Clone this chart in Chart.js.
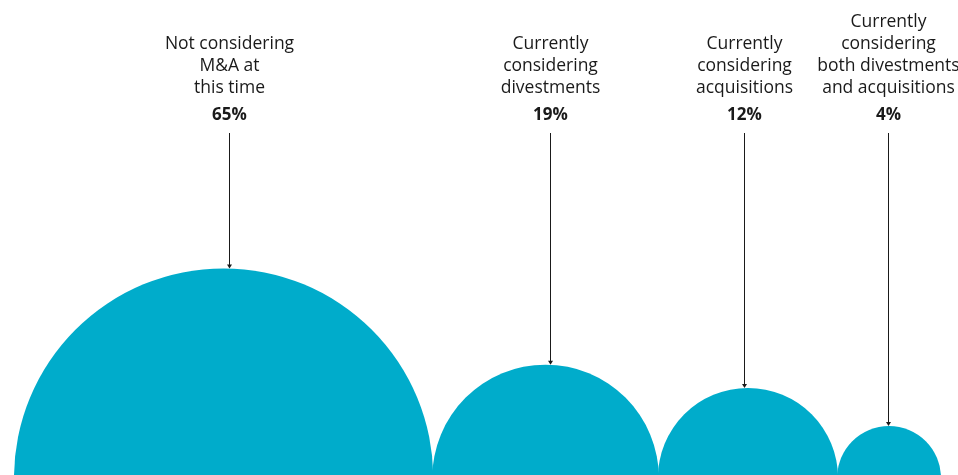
<!DOCTYPE html>
<html>
<head>
<meta charset="utf-8">
<script src="https://cdn.jsdelivr.net/npm/chart.js@4.4.1/dist/chart.umd.min.js"></script>
<style>
    html, body { margin: 0; padding: 0; background: #fff; }
    #wrap { width: 958px; height: 475px; position: relative; }
</style>
</head>
<body>
<div id="wrap"><canvas id="mna"></canvas></div>
<script>
// answers and their shares (%)
let categories = [
    ['Not considering', 'M&A at', 'this time'],
    ['Currently', 'considering', 'divestments'],
    ['Currently', 'considering', 'acquisitions'],
    ['Currently', 'considering', 'both divestments', 'and acquisitions']
];
let shares = [65, 19, 12, 4];

const BLUE = '#00accb';
const TEXT = '#1a1a1a';
const UNIT = 26;       // radius per sqrt(percent), so circle area ~ share
const LEFT = 14;       // first circle starts here
const OVERLAP = 1;     // neighbours touch / overlap a hair
const NUDGE = [5, 4, -4, -1];   // labels sit a touch off the circle centres


// -------- CIRCLE PACKING -------- //

function radiusOf(v) {
    return UNIT * Math.sqrt(v);
}

function buildPoints() {
    let points = [];
    let x = LEFT;
    for (let i = 0; i < shares.length; i++) {
        let r = radiusOf(shares[i]);
        if (i > 0) x += radiusOf(shares[i - 1]) + r - OVERLAP;
        else x += r;
        points.push({ x: x, y: 0, r: r });
    }
    return points;
}


// -------- LABELS + LEADER LINES -------- //

const labelPlugin = {
    id: 'labels',
    afterDatasetsDraw(chart) {
        const ctx = chart.ctx;
        const meta = chart.getDatasetMeta(0);
        ctx.save();
        meta.data.forEach((el, i) => {
            let x = Math.round(el.x + NUDGE[i]) + 0.5;
            let dx = x - el.x;
            let r = el.options.radius;
            let top = el.y - Math.sqrt(r * r - dx * dx);
            let lines = categories[i];

            ctx.fillStyle = TEXT;
            ctx.textAlign = 'center';
            ctx.textBaseline = 'middle';
            ctx.font = '17.5px "Open Sans", sans-serif';
            for (let j = 0; j < lines.length; j++) {
                let y = 88 - (lines.length - 1 - j) * 22;
                ctx.fillText(lines[j], x, y);
            }
            ctx.font = 'bold 17px "Open Sans", sans-serif';
            ctx.fillText(shares[i] + '%', x, 115);

            // leader with a small arrow tip
            ctx.strokeStyle = TEXT;
            ctx.lineWidth = 1;
            ctx.beginPath();
            ctx.moveTo(x, 133);
            ctx.lineTo(x, top - 2);
            ctx.stroke();
            ctx.beginPath();
            ctx.moveTo(x - 2.5, top - 4);
            ctx.lineTo(x + 2.5, top - 4);
            ctx.lineTo(x, top);
            ctx.closePath();
            ctx.fill();
        });
        ctx.restore();
    }
};


// -------- CHART -------- //

function init() {
    new Chart(document.getElementById('mna'), {
        type: 'bubble',
        data: {
            datasets: [{
                data: buildPoints(),
                backgroundColor: BLUE,
                hoverBackgroundColor: BLUE,
                borderWidth: 0,
                hoverBorderWidth: 0,
                hoverRadius: 0,
                clip: false
            }]
        },
        options: {
            responsive: true,
            maintainAspectRatio: false,
            animation: false,
            layout: { padding: 0, autoPadding: false },
            scales: {
                x: { type: 'linear', min: 0, max: 958, display: false },
                y: { type: 'linear', min: 3, max: 478, display: false }
            },
            plugins: {
                legend: { display: false },
                tooltip: { enabled: false }
            }
        },
        plugins: [labelPlugin]
    });
}

init();
</script>
</body>
</html>
